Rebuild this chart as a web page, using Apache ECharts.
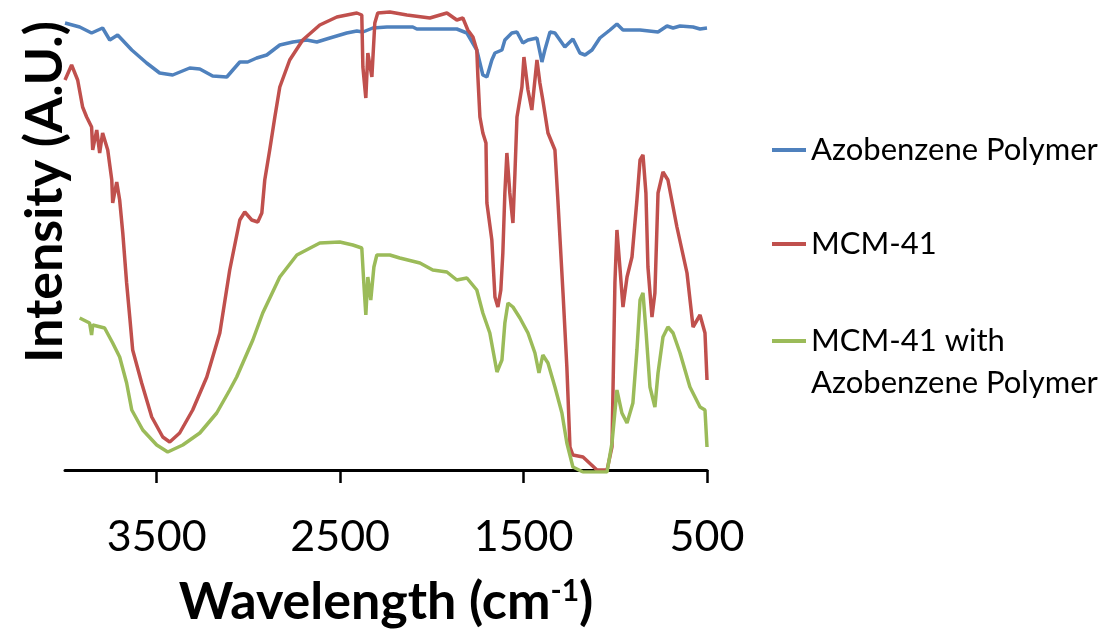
<!DOCTYPE html>
<html>
<head>
<meta charset="utf-8">
<script src="https://cdn.jsdelivr.net/npm/echarts@6/dist/echarts.min.js"></script>
<style>
html,body{margin:0;padding:0;background:#fff;}
#chart{width:1106px;height:633px;}
</style>
</head>
<body>
<div id="chart"></div>
<script>
// Wavenumber (cm^-1) and intensity (arbitrary units)
const seriesNames = ['Azobenzene Polymer', 'MCM-41', 'MCM-41 with Azobenzene Polymer'];

const azoWn = [4000,3920,3855,3795,3756,3713,3636,3555,3484,3413,3320,3265,3195,3118,3085,3047,3004,2955,2900,2829,2758,2682,2627,2556,2464,2409,2376,2322,2245,2104,2082,1864,1809,1755,1722,1700,1673,1656,1618,1602,1564,1536,1504,1476,1427,1400,1384,1356,1329,1275,1231,1193,1165,1127,1084,1029,991,958,865,767,718,685,647,576,538,500];
const azoI  = [447,443,437,442,430,435,420,407,397,395,402,401,394,393,400,408,408,412,415,425,428,430,428,432,437,439,438,442,443,443,441,441,437,420,395,393,410,417,420,430,437,438,427,430,432,408,420,438,437,423,431,417,415,420,432,440,446,440,440,438,444,442,444,443,441,442];

const mcmWn = [4000,3964,3931,3904,3882,3855,3849,3827,3811,3795,3767,3745,3740,3718,3702,3685,3664,3647,3631,3582,3527,3467,3429,3375,3304,3227,3156,3102,3047,3020,2982,2949,2927,2911,2884,2856,2829,2775,2704,2611,2518,2409,2382,2376,2360,2349,2327,2311,2295,2229,2136,2011,1918,1864,1831,1804,1776,1755,1749,1738,1722,1705,1700,1673,1656,1640,1624,1613,1602,1591,1575,1558,1547,1536,1509,1498,1476,1455,1427,1411,1395,1367,1329,1313,1285,1264,1247,1231,1176,1100,1045,1018,1002,991,975,958,936,909,882,865,849,833,822,800,784,767,740,713,664,609,576,538,511,500];
const mcmI  = [390,405,390,363,353,343,320,340,317,337,320,290,267,288,270,237,187,153,120,87,53,33,28,37,60,93,137,200,250,258,250,248,257,290,320,353,383,410,430,445,453,457,455,403,372,417,393,447,457,458,455,452,457,450,452,440,433,420,393,353,337,327,267,230,173,163,180,217,277,317,277,247,297,353,383,413,380,360,410,387,370,337,320,270,177,103,23,15,13,0,0,23,187,240,203,163,193,213,270,310,315,277,203,153,177,277,298,290,243,197,143,155,137,90];

const mixWn = [3920,3866,3855,3849,3784,3740,3702,3664,3636,3576,3500,3440,3358,3265,3173,3102,3064,2976,2922,2829,2736,2611,2502,2431,2382,2371,2360,2349,2333,2316,2300,2229,2175,2065,1995,1918,1864,1809,1755,1722,1684,1645,1618,1602,1585,1558,1520,1476,1438,1416,1395,1367,1329,1291,1264,1231,1176,1045,1018,991,964,936,904,882,865,849,833,811,784,767,740,713,685,647,593,538,511,500];
const mixI  = [152,147,135,145,142,127,113,87,60,40,25,18,25,37,57,80,93,130,157,193,215,227,228,225,222,187,155,193,170,203,215,215,212,207,200,198,190,192,180,157,137,98,110,147,167,163,152,137,117,97,115,107,83,57,27,3,-2,-2,27,80,57,47,67,120,170,177,140,83,63,97,133,143,137,117,83,63,60,23];

const xTickValues = [500, 1500, 2500, 3500];

function pairs(xs, ys) { return xs.map((x, i) => [x, ys[i]]); }

const FONT = 'Lato, "Open Sans", sans-serif';
const colors = ['#4F81BD', '#C0504D', '#9BBB59'];

const chart = echarts.init(document.getElementById('chart'), null, {renderer: 'canvas'});

function legendFor(name, top, text) {
  return {
    show: true,
    left: 772,
    top: top,
    orient: 'vertical',
    padding: 0,
    icon: 'rect',
    itemWidth: 34,
    itemHeight: 4,
    selectedMode: false,
    data: [name],
    formatter: function () { return text; },
    textStyle: {fontFamily: FONT, fontSize: 31, color: '#000', lineHeight: 42}
  };
}

chart.setOption({
  animation: false,
  backgroundColor: '#fff',
  color: colors,
  grid: {left: 65, right: 399, top: 10, bottom: 161, containLabel: false},
  legend: [
    legendFor(seriesNames[0], 129, seriesNames[0]),
    legendFor(seriesNames[1], 223, seriesNames[1]),
    legendFor(seriesNames[2], 278, '\nMCM-41 with\nAzobenzene Polymer')
  ],
  xAxis: {
    type: 'value',
    min: 500,
    max: 4000,
    interval: 1000,
    inverse: true,
    axisLine: {show: true, lineStyle: {color: '#000', width: 3}},
    axisTick: {show: true, length: 13, inside: false, lineStyle: {color: '#000', width: 2.5}, customValues: xTickValues},
    axisLabel: {show: true, margin: 44, fontFamily: FONT, fontSize: 43, color: '#000', customValues: xTickValues,
                formatter: function (v) { return String(v); }},
    splitLine: {show: false},
    name: 'Wavelength (cm{sup|-1})',
    nameLocation: 'middle',
    nameGap: 104,
    nameTextStyle: {
      fontFamily: FONT, fontSize: 52, fontWeight: 'bold', color: '#000',
      rich: {sup: {fontFamily: FONT, fontSize: 30, fontWeight: 'bold', color: '#000', verticalAlign: 'top', padding: [0, 0, 20, 0]}}
    }
  },
  yAxis: {
    type: 'value',
    min: -2,
    max: 460,
    axisLine: {show: false},
    axisTick: {show: false},
    axisLabel: {show: false},
    splitLine: {show: false}
  },
  graphic: [{
    type: 'text',
    x: 45,
    y: 192,
    rotation: Math.PI / 2,
    style: {
      text: 'Intensity (A.U.)',
      font: 'bold 52px ' + FONT,
      fill: '#000',
      align: 'center',
      verticalAlign: 'middle'
    }
  }],
  series: [
    {name: seriesNames[0], type: 'line', showSymbol: false, data: pairs(azoWn, azoI), lineStyle: {width: 3.5, color: colors[0]}, itemStyle: {color: colors[0]}},
    {name: seriesNames[1], type: 'line', showSymbol: false, data: pairs(mcmWn, mcmI), lineStyle: {width: 3.5, color: colors[1]}, itemStyle: {color: colors[1]}},
    {name: seriesNames[2], type: 'line', showSymbol: false, data: pairs(mixWn, mixI), lineStyle: {width: 3.5, color: colors[2]}, itemStyle: {color: colors[2]}}
  ]
});
</script>
</body>
</html>
